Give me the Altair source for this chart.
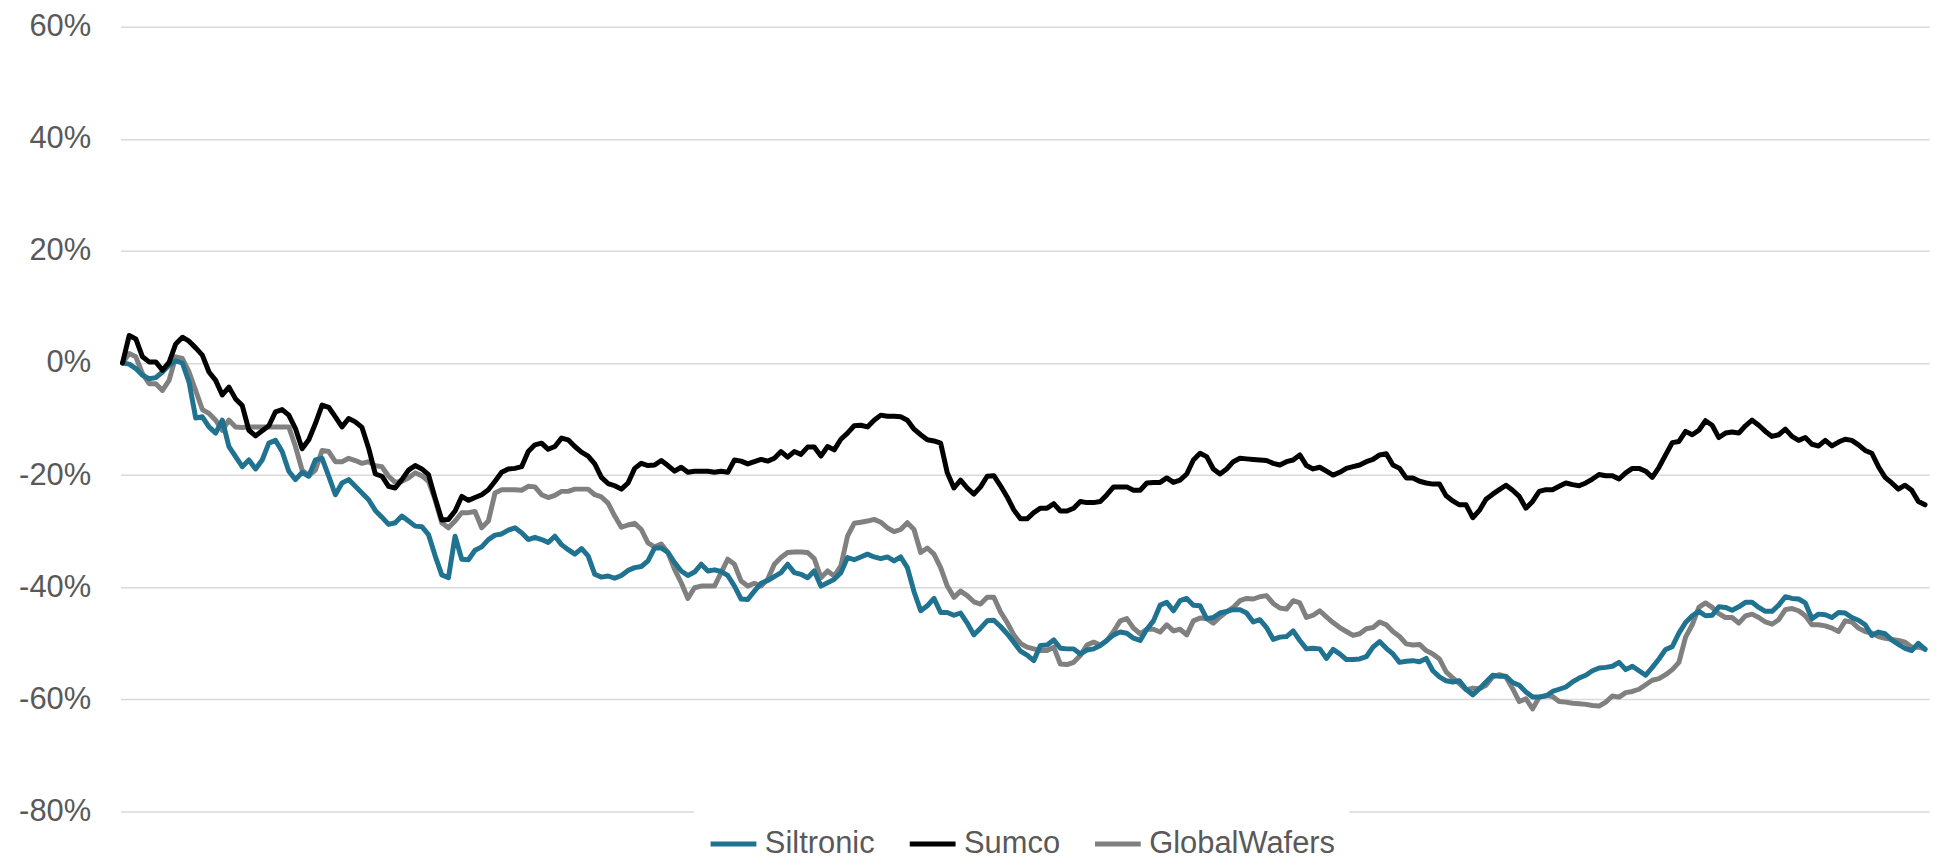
import altair as alt
import pandas as pd

series_names = ["Siltronic", "Sumco", "GlobalWafers"]
series_colors = ["#1F7391", "#000000", "#808080"]
y_ticks = [-80, -60, -40, -20, 0, 20, 40, 60]

# weekly relative performance in %
siltronic = [
    0.0, -0.2, -1.0, -2.2, -2.8, -2.6, -1.6, -0.4, 0.4, 0.0, -3.4, -9.8, -9.6, -11.4, -12.5, -10.2, -14.9, -16.7, -18.5, -17.3, -18.9, -17.3, -14.3, -13.8, -15.8, -19.3, -20.8, -19.5, -20.2, -17.3,
    -17.0, -20.2, -23.5, -21.4, -20.8, -22.0, -23.2, -24.4, -26.3, -27.5, -28.8, -28.5, -27.3, -28.2, -29.1, -29.2, -30.6, -34.4, -37.8, -38.3, -30.9, -35.0, -35.1, -33.4, -32.8, -31.5, -30.7, -30.5, -29.8, -29.4,
    -30.3, -31.5, -31.1, -31.5, -32.0, -30.9, -32.4, -33.3, -34.1, -33.1, -34.4, -37.7, -38.2, -38.0, -38.4, -37.9, -37.0, -36.5, -36.3, -35.3, -33.0, -33.0, -33.8, -35.6, -37.1, -37.9, -37.3, -35.9, -37.1, -36.9,
    -37.2, -37.9, -39.8, -42.1, -42.2, -40.7, -39.3, -38.8, -38.1, -37.4, -35.9, -37.4, -37.7, -38.3, -37.1, -39.8, -39.2, -38.6, -37.4, -34.7, -35.1, -34.6, -34.1, -34.6, -34.9, -34.6, -35.3, -34.6, -36.5, -40.8,
    -44.2, -43.3, -42.0, -44.5, -44.5, -45.0, -44.6, -46.4, -48.5, -47.3, -46.0, -45.9, -47.0, -48.3, -49.8, -51.4, -52.1, -53.1, -50.4, -50.3, -49.4, -50.9, -51.0, -51.0, -51.9, -51.2, -51.0, -50.4, -49.5, -48.5,
    -48.0, -48.2, -49.1, -49.5, -47.5, -46.0, -43.2, -42.7, -44.2, -42.4, -42.0, -43.2, -43.3, -45.6, -45.4, -44.6, -44.3, -44.0, -44.0, -44.6, -46.2, -45.8, -47.2, -49.3, -48.9, -48.8, -47.8, -49.5, -51.0, -50.9,
    -51.0, -52.7, -51.1, -51.9, -52.9, -52.9, -52.8, -52.4, -50.7, -49.7, -50.9, -51.9, -53.4, -53.2, -53.1, -53.3, -52.7, -54.9, -56.0, -56.7, -56.9, -56.7, -58.2, -59.2, -58.1, -56.9, -55.7, -55.9, -55.9, -57.0,
    -57.5, -58.7, -59.6, -59.6, -59.4, -58.6, -58.2, -57.8, -56.9, -56.2, -55.7, -54.9, -54.4, -54.3, -54.1, -53.4, -54.7, -54.1, -54.9, -55.7, -54.3, -52.8, -51.1, -50.6, -48.2, -46.3, -45.1, -44.3, -45.1, -45.0,
    -43.5, -43.6, -44.1, -43.5, -42.7, -42.7, -43.6, -44.3, -44.3, -43.2, -41.7, -42.0, -42.1, -42.8, -45.6, -44.8, -44.9, -45.4, -44.5, -44.6, -45.4, -45.9, -46.7, -48.6, -48.0, -48.3, -49.4, -50.2, -50.9, -51.3, -50.0, -51.1,
]

sumco = [
    0.0, 4.9, 4.3, 1.1, 0.2, 0.2, -1.3, 0.1, 3.4, 4.6, 3.9, 2.7, 1.4, -1.6, -3.1, -5.7, -4.3, -6.4, -7.6, -12.0, -13.0, -12.1, -11.2, -8.7, -8.3, -9.3, -11.7, -15.3, -13.7, -10.8,
    -7.5, -7.9, -9.6, -11.4, -9.9, -10.5, -11.5, -15.2, -19.8, -20.2, -22.0, -22.3, -20.8, -19.1, -18.3, -18.9, -19.9, -24.1, -28.0, -27.9, -26.4, -23.8, -24.5, -24.0, -23.5, -22.6, -21.1, -19.5, -18.9, -18.8,
    -18.5, -15.8, -14.6, -14.3, -15.4, -14.9, -13.4, -13.7, -14.9, -15.9, -16.6, -18.0, -20.4, -21.5, -21.9, -22.5, -21.4, -18.8, -17.9, -18.3, -18.2, -17.4, -18.3, -19.3, -18.6, -19.5, -19.3, -19.3, -19.3, -19.5,
    -19.3, -19.5, -17.3, -17.5, -18.0, -17.6, -17.2, -17.5, -17.0, -15.8, -16.8, -15.8, -16.3, -15.0, -15.0, -16.6, -14.9, -15.5, -13.6, -12.5, -11.2, -11.1, -11.4, -10.2, -9.3, -9.5, -9.5, -9.6, -10.2, -11.8,
    -12.8, -13.7, -13.9, -14.3, -19.6, -22.3, -20.9, -22.3, -23.4, -22.1, -20.2, -20.1, -21.9, -23.9, -26.2, -27.8, -27.8, -26.7, -25.9, -25.9, -25.1, -26.4, -26.4, -25.9, -24.7, -24.9, -24.9, -24.7, -23.5, -22.1,
    -22.1, -22.1, -22.7, -22.7, -21.4, -21.3, -21.3, -20.5, -21.3, -20.9, -19.8, -17.3, -16.1, -16.7, -18.9, -19.8, -18.9, -17.6, -17.0, -17.1, -17.2, -17.3, -17.4, -17.9, -18.2, -17.6, -17.3, -16.4, -18.3, -18.9,
    -18.6, -19.3, -20.0, -19.5, -18.8, -18.5, -18.2, -17.6, -17.2, -16.4, -16.2, -18.2, -18.8, -20.5, -20.5, -21.1, -21.4, -21.6, -21.6, -23.7, -24.6, -25.3, -25.3, -27.6, -26.3, -24.3, -23.4, -22.6, -21.8, -22.7,
    -23.8, -25.9, -24.7, -22.9, -22.6, -22.6, -22.0, -21.4, -21.7, -21.9, -21.4, -20.7, -19.9, -20.1, -20.1, -20.7, -19.6, -18.8, -18.8, -19.3, -20.4, -18.6, -16.4, -14.2, -14.0, -12.2, -12.8, -12.0, -10.3, -11.1,
    -13.3, -12.5, -12.3, -12.5, -11.2, -10.2, -11.1, -12.2, -13.1, -12.8, -11.8, -13.1, -13.8, -13.3, -14.5, -14.8, -13.8, -14.8, -14.1, -13.6, -13.8, -14.6, -15.6, -16.1, -18.5, -20.4, -21.4, -22.5, -21.8, -22.7, -24.7, -25.3,
]

globalwafers = [
    0.0, 1.7, 1.1, -1.9, -3.7, -3.7, -4.9, -3.1, 1.1, 0.8, -1.6, -4.9, -8.3, -9.0, -10.2, -12.0, -10.2, -11.4, -11.5, -11.4, -11.4, -11.4, -11.4, -11.4, -11.4, -11.4, -14.9, -19.1, -20.1, -19.1,
    -15.6, -15.8, -17.6, -17.6, -17.0, -17.4, -17.9, -17.6, -18.3, -18.5, -20.2, -21.3, -21.1, -20.5, -19.6, -20.1, -21.1, -24.4, -28.5, -29.4, -28.2, -26.7, -26.7, -26.5, -29.4, -28.2, -23.2, -22.6, -22.6, -22.6,
    -22.7, -22.0, -22.1, -23.5, -24.0, -23.6, -22.9, -22.9, -22.5, -22.5, -22.5, -23.5, -23.9, -25.0, -27.3, -29.3, -28.9, -28.6, -29.7, -32.1, -32.8, -32.3, -33.8, -36.8, -39.2, -42.0, -40.1, -39.8, -39.8, -39.8,
    -37.4, -35.0, -35.9, -38.9, -39.8, -39.3, -39.8, -38.6, -35.9, -34.7, -33.8, -33.7, -33.7, -33.8, -34.9, -38.3, -37.1, -38.0, -36.2, -30.9, -28.6, -28.4, -28.2, -27.9, -28.4, -29.4, -30.1, -29.7, -28.5, -29.7,
    -33.8, -33.0, -34.1, -36.5, -39.8, -41.8, -40.7, -41.5, -42.6, -43.0, -41.8, -41.8, -44.4, -46.3, -48.5, -50.0, -50.7, -51.0, -51.3, -51.3, -50.7, -53.7, -53.8, -53.4, -52.2, -50.3, -49.8, -50.3, -49.5, -47.9,
    -46.0, -45.6, -47.3, -48.3, -47.5, -47.5, -48.0, -46.7, -47.8, -47.5, -48.5, -46.0, -45.5, -45.6, -46.4, -45.3, -44.4, -43.6, -42.4, -42.0, -42.1, -41.7, -41.5, -42.9, -43.7, -43.9, -42.4, -42.8, -45.4, -45.0,
    -44.2, -45.3, -46.3, -47.2, -47.9, -48.6, -48.3, -47.4, -47.2, -46.2, -46.7, -47.9, -48.8, -50.1, -50.3, -50.2, -51.3, -51.9, -52.8, -55.1, -56.2, -57.2, -58.3, -58.0, -58.1, -57.5, -56.0, -55.6, -56.0, -58.1,
    -60.4, -59.9, -61.7, -59.6, -59.3, -59.5, -60.4, -60.5, -60.7, -60.8, -60.9, -61.1, -61.2, -60.5, -59.4, -59.6, -58.8, -58.6, -58.2, -57.4, -56.6, -56.3, -55.6, -54.7, -53.4, -48.9, -46.7, -43.6, -42.8, -43.6,
    -44.7, -45.4, -45.4, -46.4, -45.1, -44.8, -45.4, -46.2, -46.6, -45.8, -44.0, -43.8, -44.2, -45.1, -46.7, -46.7, -46.9, -47.3, -47.9, -46.0, -46.2, -47.3, -47.9, -48.2, -48.8, -49.1, -49.3, -49.5, -49.8, -50.7, -50.7, -51.0,
]

rows = []
for name, vals in zip(series_names, [siltronic, sumco, globalwafers]):
    for i, v in enumerate(vals):
        rows.append({"week": i, "value": v, "series": name})
df = pd.DataFrame(rows)

n = len(siltronic)
FONT = "Liberation Sans"

color = alt.Color(
    "series:N",
    scale=alt.Scale(domain=series_names, range=series_colors),
    legend=alt.Legend(
        title=None,
        orient="none",
        legendX=576,
        legendY=781,
        direction="horizontal",
        fillColor="white",
        padding=14,
        symbolType="stroke",
        symbolSize=2116,
        symbolStrokeWidth=5,
        labelFont=FONT,
        labelFontSize=31,
        labelColor="#595959",
        labelOffset=6,
        columnPadding=24,
        labelLimit=500,
    ),
)

base = alt.Chart(df).mark_line(strokeWidth=5, strokeJoin="round", strokeCap="round").encode(
    x=alt.X("week:Q", axis=None,
            scale=alt.Scale(domain=[-0.3, n - 1 + 0.6], nice=False, zero=False)),
    y=alt.Y("value:Q",
            scale=alt.Scale(domain=[-80, 60], nice=False),
            axis=alt.Axis(values=y_ticks, labelExpr="datum.value + '%'", title=None,
                          labelFont=FONT, labelFontSize=31, labelColor="#595959",
                          labelPadding=30, ticks=False, domain=False,
                          gridColor="#D9D9D9", gridWidth=1.5)),
    color=color,
)

layers = [base.transform_filter(alt.datum.series == s) for s in ["GlobalWafers", "Siltronic", "Sumco"]]

chart = alt.layer(*layers).properties(
    width=1816,
    height=788,
    padding={"left": 113, "top": 17, "right": 3, "bottom": 47},
    autosize=alt.AutoSizeParams(type="none"),
    background="white",
).configure_view(stroke=None)

chart.save("out.html", embed_options={"renderer": "svg", "actions": False})
